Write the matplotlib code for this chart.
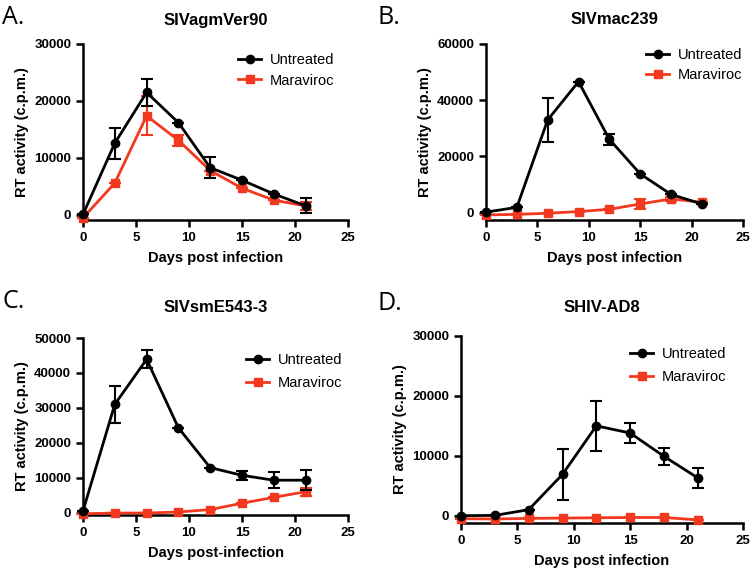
import matplotlib
matplotlib.use("Agg")
import matplotlib.pyplot as plt
from matplotlib.lines import Line2D

plt.rcParams['font.family'] = ['Liberation Sans', 'DejaVu Sans']

days = [0, 3, 6, 9, 12, 15, 18, 21]

# A. SIVagmVer90
a_untr = [100, 12600, 21500, 16200, 8300, 6100, 3700, 1600]
a_untr_err = [0, 2700, 2300, 0, 1800, 0, 0, 1300]
a_mvc = [-500, 5600, 17400, 13100, 7800, 4700, 2600, 1600]
a_mvc_err = [0, 0, 3400, 1000, 0, 0, 0, 700]

# B. SIVmac239
b_untr = [200, 1900, 33000, 46600, 26100, 13800, 6500, 3100]
b_untr_err = [0, 0, 7800, 0, 2000, 0, 0, 0]
b_mvc = [-800, -600, -200, 400, 1200, 3100, 4900, 3700]
b_mvc_err = [0, 0, 0, 0, 0, 1700, 850, 0]

# C. SIVsmE543-3
c_untr = [500, 31000, 43900, 24300, 12900, 10700, 9300, 9300]
c_untr_err = [0, 5200, 2600, 0, 0, 1200, 2300, 2900]
c_mvc = [-300, -100, -100, 200, 900, 2700, 4400, 6000]
c_mvc_err = [0, 0, 0, 0, 0, 0, 0, 1200]

# D. SHIV-AD8
d_untr = [0, 50, 1000, 6900, 15000, 13800, 9900, 6300]
d_untr_err = [0, 0, 0, 4200, 4200, 1700, 1400, 1650]
d_mvc = [-500, -550, -450, -400, -350, -300, -300, -700]
d_mvc_err = [0, 0, 0, 0, 0, 0, 0, 0]

red = '#F2391F'

# letter, title, data..., axes box (px), ytop, ybot, ystep, xlabel,
# legend top-left (px), legend row spacing, title y (px), letter (x, baseline y) px
panels = [
    ("A.", "SIVagmVer90", a_untr, a_untr_err, a_mvc, a_mvc_err,
     [83, 44, 348, 220], 30000, -880, 10000, "Days post infection", (238, 53), 0.45, 20, (2, 24)),
    ("B.", "SIVmac239", b_untr, b_untr_err, b_mvc, b_mvc_err,
     [486, 44, 743, 220], 60000, -2600, 20000, "Days post infection", (646, 48), 0.4, 20, (377, 24)),
    ("C.", "SIVsmE543-3", c_untr, c_untr_err, c_mvc, c_mvc_err,
     [83, 338, 348, 515], 50000, -660, 10000, "Days post-infection", (246, 353), 0.6, 308, (2, 308)),
    ("D.", "SHIV-AD8", d_untr, d_untr_err, d_mvc, d_mvc_err,
     [461, 336, 743, 523], 30000, -1220, 10000, "Days post infection", (630, 347), 0.6, 307, (377, 310)),
]

W, H = 750, 571
fig = plt.figure(figsize=(7.5, 5.71), dpi=100)

handles = [Line2D([], [], color='black', lw=2, marker='o', ms=6),
           Line2D([], [], color=red, lw=2, marker='s', ms=5.5)]

for letter, title, untr, untr_err, mvc, mvc_err, box, ytop, ybot, ystep, xlab, legxy, lsp, ty, lxy in panels:
    x0, y0, x1, y1 = box
    ax = fig.add_axes([x0 / W, 1 - y1 / H, (x1 - x0) / W, (y1 - y0) / H])
    ax.errorbar(days, untr, yerr=untr_err, color='black', lw=2, marker='o', ms=6,
                capsize=4, elinewidth=1.5, capthick=1.5, clip_on=False, zorder=4)
    ax.errorbar(days, mvc, yerr=mvc_err, color=red, lw=2, marker='s', ms=5.5,
                capsize=4, elinewidth=1.5, capthick=1.5, clip_on=False, zorder=3)
    ax.set_xlim(0, 25)
    ax.set_ylim(ybot, ytop)
    ax.set_xticks([0, 5, 10, 15, 20, 25])
    ax.set_yticks(list(range(0, ytop + 1, ystep)))
    for s in ['top', 'right']:
        ax.spines[s].set_visible(False)
    for s in ['left', 'bottom']:
        ax.spines[s].set_linewidth(1.8)
    ax.tick_params(width=1.8, length=5, labelsize=9.5)
    for lab in ax.get_xticklabels() + ax.get_yticklabels():
        lab.set_fontweight('bold')
    ax.set_xlabel(xlab, fontsize=10.5, fontweight='bold', labelpad=5)
    ax.set_ylabel("RT activity (c.p.m.)", fontsize=10.5, fontweight='bold', labelpad=4)
    fig.text((x0 + x1) / 2 / W, 1 - ty / H, title, fontsize=12, fontweight='bold',
             ha='center', va='center')
    fig.legend(handles, ['Untreated', 'Maraviroc'], loc='upper left',
               bbox_to_anchor=(legxy[0] / W, 1 - legxy[1] / H), bbox_transform=fig.transFigure,
               frameon=False, fontsize=10.5, borderpad=0, borderaxespad=0,
               handlelength=1.6, handletextpad=0.6, labelspacing=lsp)
    fig.text(lxy[0] / W, 1 - lxy[1] / H, letter, fontsize=18,
             family=['Open Sans', 'DejaVu Sans'], va='baseline', ha='left')

fig.savefig("out.png", dpi=100)
